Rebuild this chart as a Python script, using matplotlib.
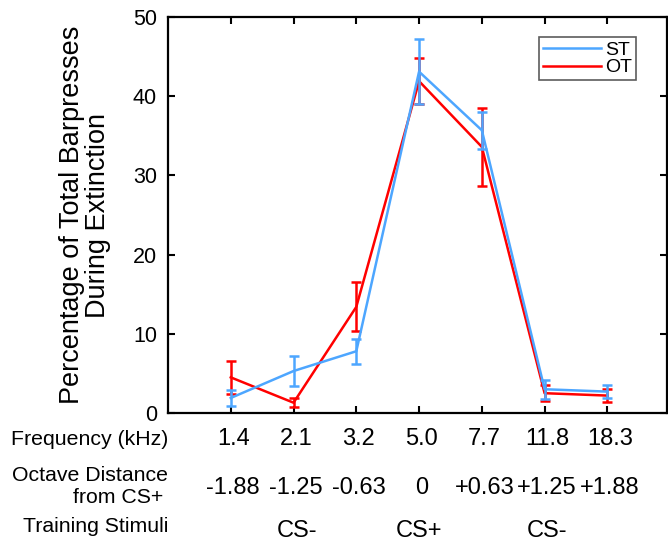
import matplotlib
matplotlib.use('Agg')
import matplotlib.pyplot as plt
from matplotlib.lines import Line2D
import numpy as np

plt.rcParams['font.family'] = ['Liberation Sans', 'DejaVu Sans']

positions = [1, 2, 3, 4, 5, 6, 7]
freq_labels = ['1.4', '2.1', '3.2', '5.0', '7.7', '11.8', '18.3']
octave_labels = ['-1.88', '-1.25', '-0.63', '0', '+0.63', '+1.25', '+1.88']
stim_labels = ['CS-', 'CS+', 'CS-']
stim_pos = [2.05, 4.0, 6.04]

st_mean = [1.9, 5.3, 7.8, 43.1, 35.7, 3.0, 2.7]
st_err = [1.0, 1.85, 1.55, 4.1, 2.35, 1.2, 0.85]
ot_mean = [4.5, 1.3, 13.4, 41.9, 33.6, 2.5, 2.2]
ot_err = [2.05, 0.55, 3.1, 2.9, 4.9, 1.0, 0.85]

blue = '#4da6ff'
red = '#ff0000'

fig = plt.figure(figsize=(6.68, 5.42), dpi=100)
ax = fig.add_axes([0.2515, 0.238, 0.747, 0.7306])

ax.errorbar(positions, ot_mean, yerr=ot_err, color=red, lw=1.8, capsize=3.5,
            capthick=1.8, elinewidth=1.8, zorder=2)
ax.errorbar(positions, st_mean, yerr=st_err, color=blue, lw=1.8, capsize=3.5,
            capthick=1.8, elinewidth=1.8, zorder=3)

ax.set_xlim(0, 7.95)
ax.set_ylim(0, 50)
ax.set_xticks(positions)
ax.set_xticklabels([])
ax.set_yticks([0, 10, 20, 30, 40, 50])
ax.tick_params(direction='in', top=True, right=True, length=5, width=1.5,
               labelsize=15.5, pad=8)
for s in ax.spines.values():
    s.set_linewidth(1.6)

ax.set_ylabel('Percentage of Total Barpresses\nDuring Extinction', fontsize=19.5,
              labelpad=16, linespacing=1.0)

handles = [Line2D([], [], color=blue, lw=1.8), Line2D([], [], color=red, lw=1.8)]
leg = ax.legend(handles, ['ST', 'OT'], loc='upper right', fontsize=14,
                frameon=True, fancybox=False, edgecolor='#333333', handlelength=3.0,
                handletextpad=0.2, borderpad=0.2, labelspacing=0.0,
                borderaxespad=0, bbox_to_anchor=(0.938, 0.949))
leg.get_frame().set_linewidth(1.2)

# table of labels below the axis
trans = matplotlib.transforms.blended_transform_factory(ax.transData, fig.transFigure)
fs = 15.3
nfs = 17
fig.text(0.252, 0.19, 'Frequency (kHz)', ha='right', va='center', fontsize=fs)
fig.text(0.252, 0.1236, 'Octave Distance', ha='right', va='center', fontsize=fs)
fig.text(0.245, 0.083, 'from CS+', ha='right', va='center', fontsize=fs)
fig.text(0.252, 0.0277, 'Training Stimuli', ha='right', va='center', fontsize=fs)
for p, f, o in zip(positions, freq_labels, octave_labels):
    ax.text(p + 0.04, 0.19, f, transform=trans, ha='center', va='center', fontsize=nfs)
    ax.text(p + 0.04, 0.1, o, transform=trans, ha='center', va='center', fontsize=nfs)
for p, s in zip(stim_pos, stim_labels):
    ax.text(p, 0.02, s, transform=trans, ha='center', va='center', fontsize=nfs)

fig.savefig('out.png', dpi=100)
